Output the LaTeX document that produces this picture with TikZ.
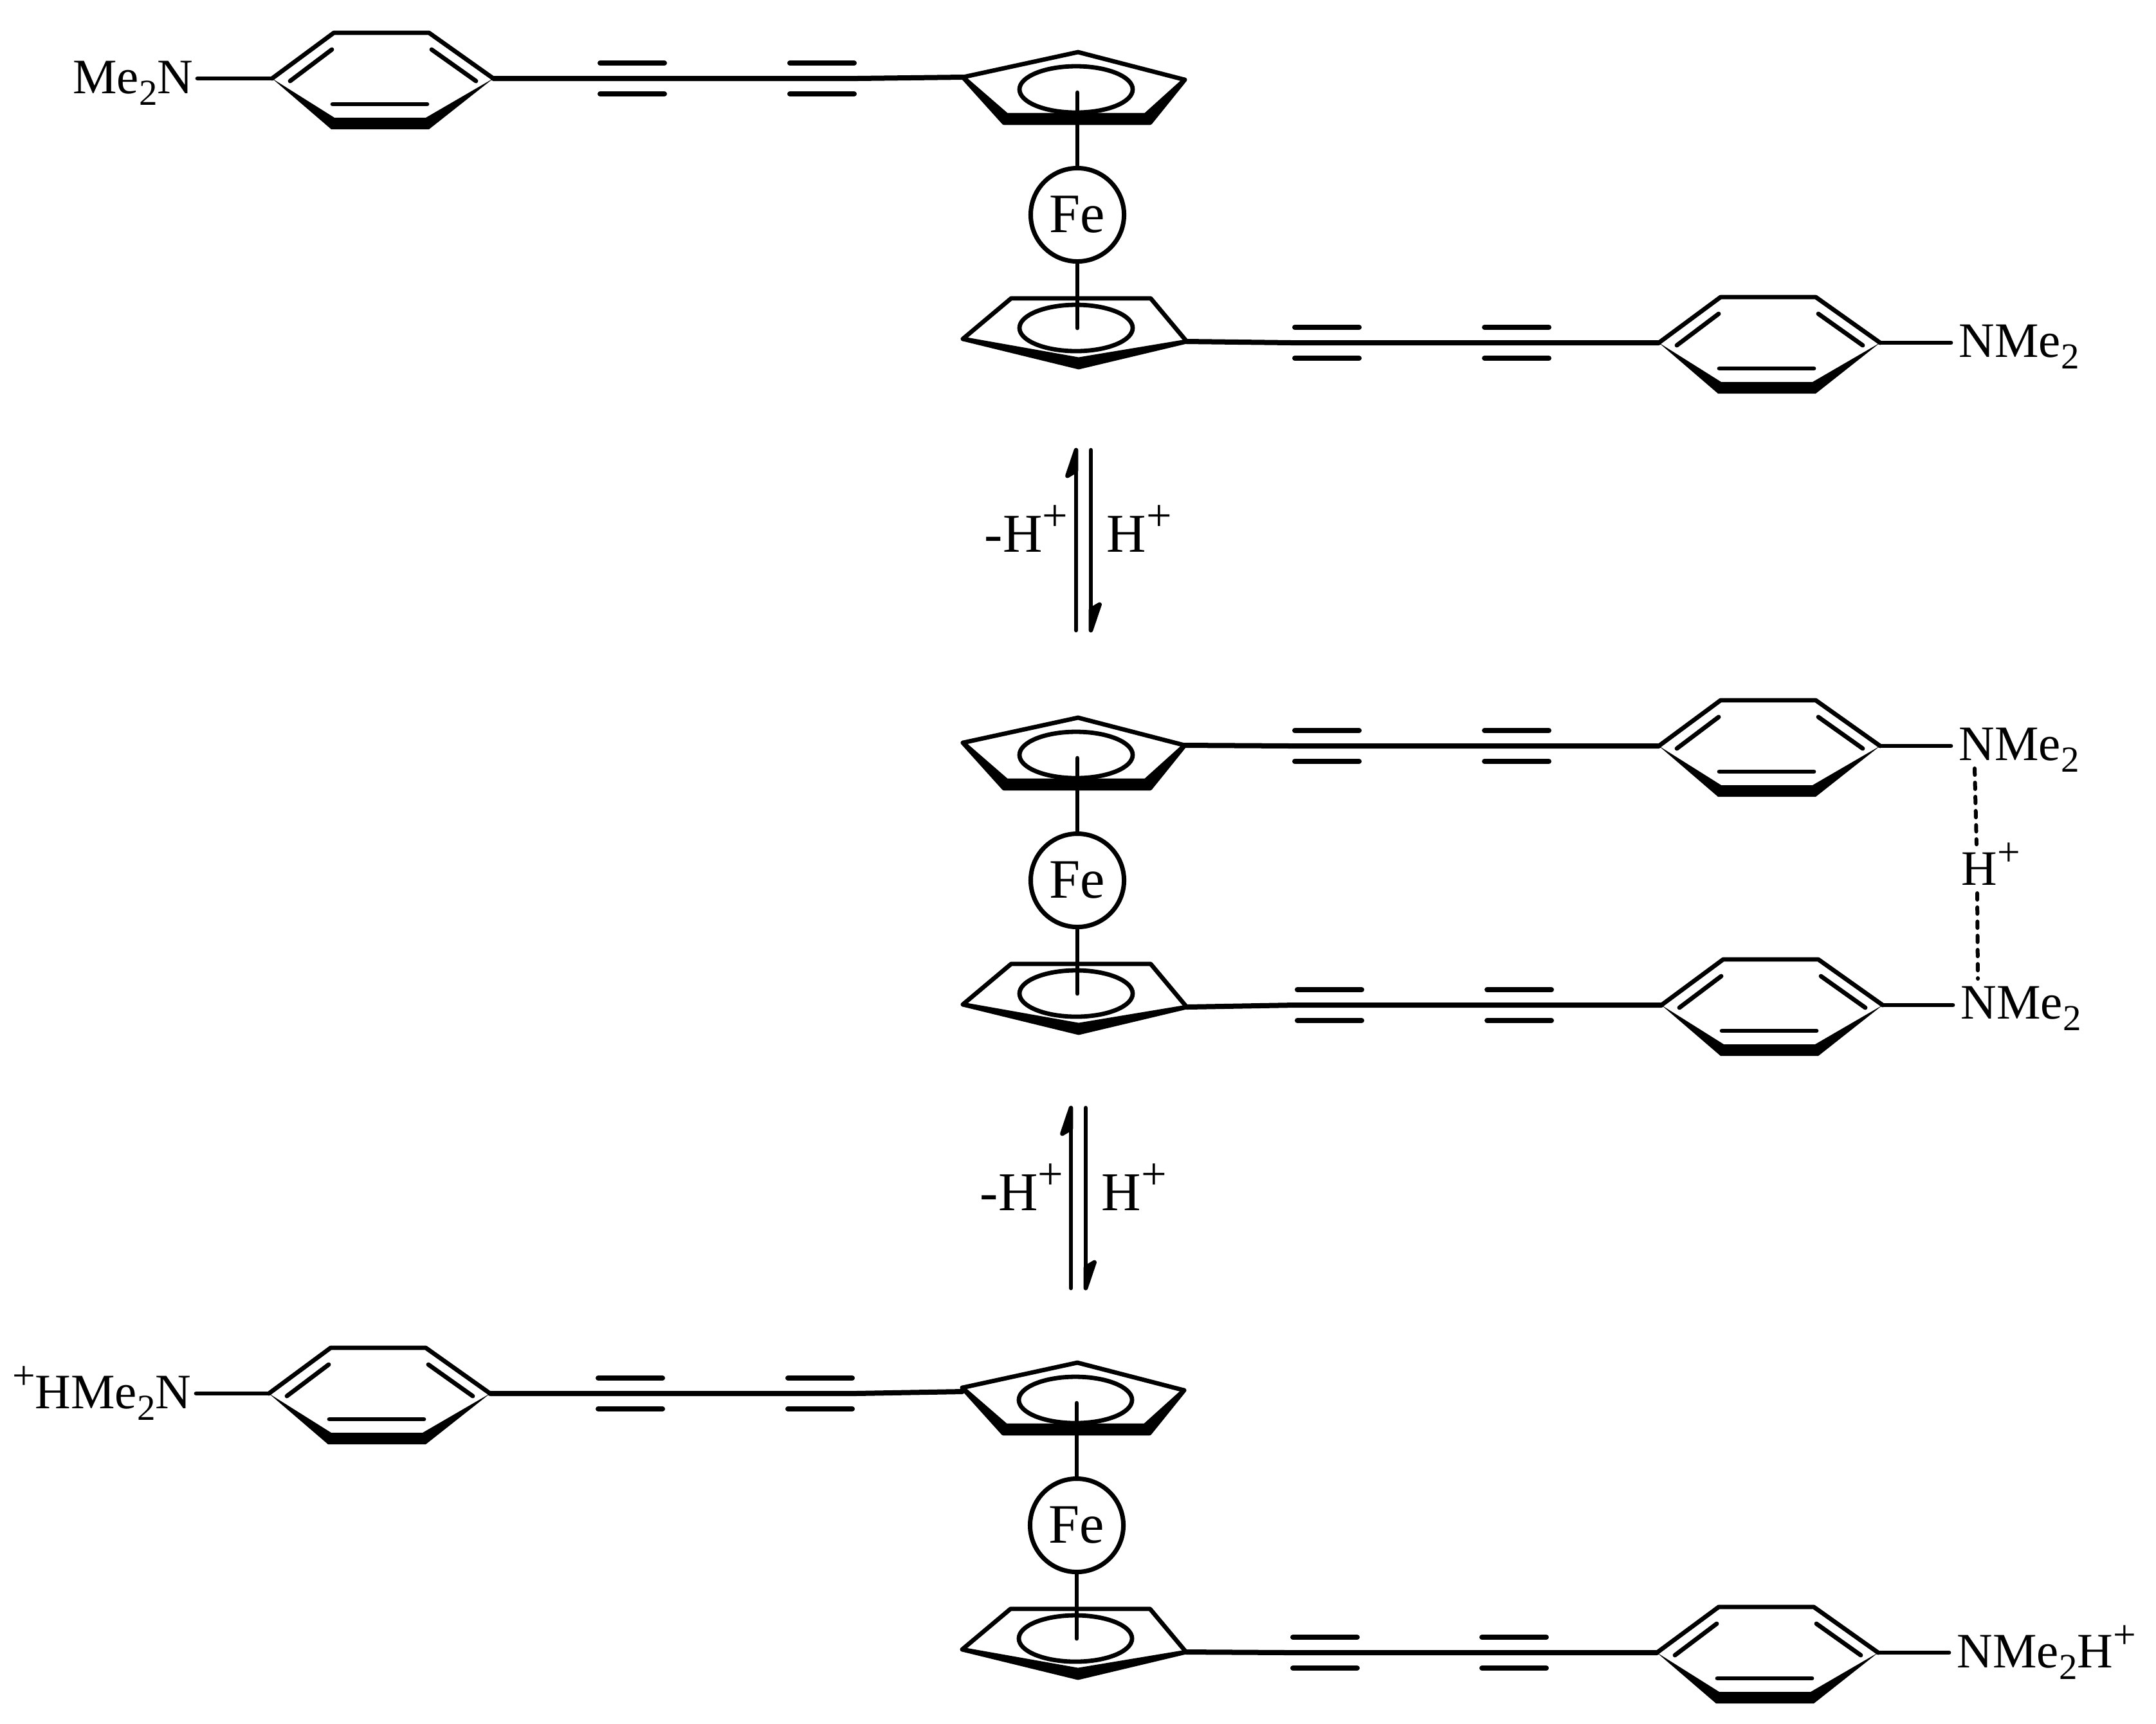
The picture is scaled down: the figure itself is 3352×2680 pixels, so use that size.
\documentclass[tikz,border=0pt]{standalone}
\usepackage{fontspec}
\setmainfont{Liberation Serif}
\usetikzlibrary{calc}

\newcommand{\subtwo}{\raisebox{-0.18cm}{\fontsize{16.2pt}{17pt}\selectfont 2}}
\newcommand{\supa}{\raisebox{0.30cm}{\fontsize{18pt}{17pt}\selectfont +}}
\newcommand{\supb}{\raisebox{0.33cm}{\fontsize{20pt}{17pt}\selectfont +}}

\tikzset{
  bond/.style={line width=0.068cm,line cap=round,line join=round},
  chain/.style={line width=0.08cm,line cap=round,line join=round},
  hbond/.style={line width=0.06cm,line cap=round,dash pattern=on 0.1cm off 0.12cm},
  small/.style={font=\fontsize{21.9pt}{26pt}\selectfont,inner ysep=0pt},
  labr/.style={small,anchor=base west,inner xsep=0.12cm},
  labl/.style={small,anchor=base east,inner xsep=0.06cm},
  big/.style={font=\fontsize{24.2pt}{28pt}\selectfont,inner sep=0pt,anchor=base west},
  fecirc/.style={circle,draw,line width=0.07cm,minimum size=1.45cm,inner sep=0pt,font=\fontsize{24.6pt}{28pt}\selectfont},
  yne/.pic={
    \coordinate (-w) at (-54,0);
    \coordinate (-e) at (54,0);
    \draw[chain] (-50,-24) -- (50,-24);
    \draw[chain] (-50,24) -- (50,24);
  },
  phenyl/.pic={
    \coordinate (-l) at (0,0);
    \coordinate (-r) at (344,0);
    \draw[bond] (-l) -- (96,-71) -- (244,-71) -- (-r);
    \fill (-l) -- (92,79) -- (244,79) -- (-r) -- (239,61) -- (97,61) -- cycle;
    \draw[bond] (28,4) -- (93,-45);
    \draw[bond] (248,-45) -- (317,4);
    \draw[bond] (94,40) -- (241,40);
  },
  ferrocene/.pic={
    \node[fecirc] (-fe) at (0,0) {Fe};
    \coordinate (-ul) at (-178,-214);
    \coordinate (-ur) at (167,-210);
    \coordinate (-ll) at (-178,193);
    \coordinate (-lr) at (170,197);
    \coordinate (-t) at (0,-190);
    \coordinate (-b) at (0,176);
    \draw[bond] (-ul) -- (1,-253) -- (-ur);
    \fill[bond,draw] (-ul) -- (-114,-143) -- (113,-143) -- (-ur) -- (106,-155) -- (-110,-155) -- cycle;
    \draw[bond] (-2,-195) ellipse [x radius=88,y radius=36];
    \draw[bond] (-ll) -- (-103,130) -- (114,130) -- (-lr);
    \fill[bond,draw] (-ll) -- (2,237) -- (-lr) -- (2,225) -- cycle;
    \draw[bond] (-2,176) ellipse [x radius=88,y radius=36];
    \draw[bond] (-fe.north) -- (-t);
    \draw[bond] (-fe.south) -- (-b);
  },
  eqarrows/.pic={
    \draw[bond] (-11.5,140) -- (-11.5,-140);
    \fill[bond,draw] (-11.5,-140) -- (-25,-100) -- (-11.5,-108) -- cycle;
    \draw[bond] (11.5,-140) -- (11.5,140);
    \fill[bond,draw] (11.5,140) -- (25,100) -- (11.5,108) -- cycle;
  }
}

\begin{document}
\begin{tikzpicture}[x=0.01cm,y=-0.01cm]
\useasboundingbox (0,0) rectangle (3352,2680);

\pic (fa) at (1675,334) {ferrocene};
\pic (fb) at (1675,1369) {ferrocene};
\pic (fc) at (1674,2372) {ferrocene};

\foreach \nm/\x/\y in {ph1/423/122,ph2/2579/533,ph3/2579/1160,ph4/2583/1563,ph5/418/2167,ph6/2576/2570}
  \pic (\nm) at (\x,\y) {phenyl};

\foreach \nm/\x/\y in {y1/983/122,y2/1278/122,y3/2063/533,y4/2358/533,y5/2063/1160,y6/2358/1160,
  y7/2067/1563,y8/2362/1563,y9/980/2167,y10/1275/2167,y11/2060/2570,y12/2354/2570}
  \pic (\nm) at (\x,\y) {yne};

\draw[chain] (ph1-r) -- (y2-e) -- (fa-ul);
\draw[chain] (fa-lr) -- (y3-w) -- (ph2-l);
\draw[chain] (fb-ur) -- (y5-w) -- (ph3-l);
\draw[chain] (fb-lr) -- (y7-w) -- (ph4-l);
\draw[chain] (ph5-r) -- (y10-e) -- ($(fc-ul)+(0,6)$);
\draw[chain] (fc-lr) -- (y11-w) -- (ph6-l);

\node[labl] (nma) at (307,145) {Me\subtwo N};
\node[labr] (nmb) at (3033,555) {NMe\subtwo};
\node[labr] (nmc) at (3033,1182) {NMe\subtwo};
\node[labr] (nmd) at (3036,1584) {NMe\subtwo};
\node[labl,inner xsep=0.07cm] (nme) at (305,2190) {\supa HMe\subtwo N};
\node[labr] (nmf) at (3030,2593) {NMe\subtwo H\supa};
\node[small,anchor=base west,inner xsep=0pt] (hp) at (3049,1376) {H\supa};

\draw[bond] (nma.east |- ph1-l) -- (ph1-l);
\draw[bond] (ph2-r) -- (ph2-r -| nmb.west);
\draw[bond] (ph3-r) -- (ph3-r -| nmc.west);
\draw[bond] (ph4-r) -- (ph4-r -| nmd.west);
\draw[bond] (nme.east |- ph5-l) -- (ph5-l);
\draw[bond] (ph6-r) -- (ph6-r -| nmf.west);

\draw[hbond] ($(nmc.base west)+(37,13)$) -- ($(hp.base west)+(24,-63)$);
\draw[hbond] ($(hp.base west)+(25,13)$) -- ($(nmd.base west)+(39,-62)$);

\pic (ar1) at (1684.5,840) {eqarrows};
\pic (ar2) at (1676.5,1863) {eqarrows};

\node[big] (lm1) at (1530,858) {-H\supb};
\node[big] (lp1) at (1720,858) {H\supb};
\node[big] (lm2) at (1523,1882) {-H\supb};
\node[big] (lp2) at (1712,1882) {H\supb};

\end{tikzpicture}
\end{document}
